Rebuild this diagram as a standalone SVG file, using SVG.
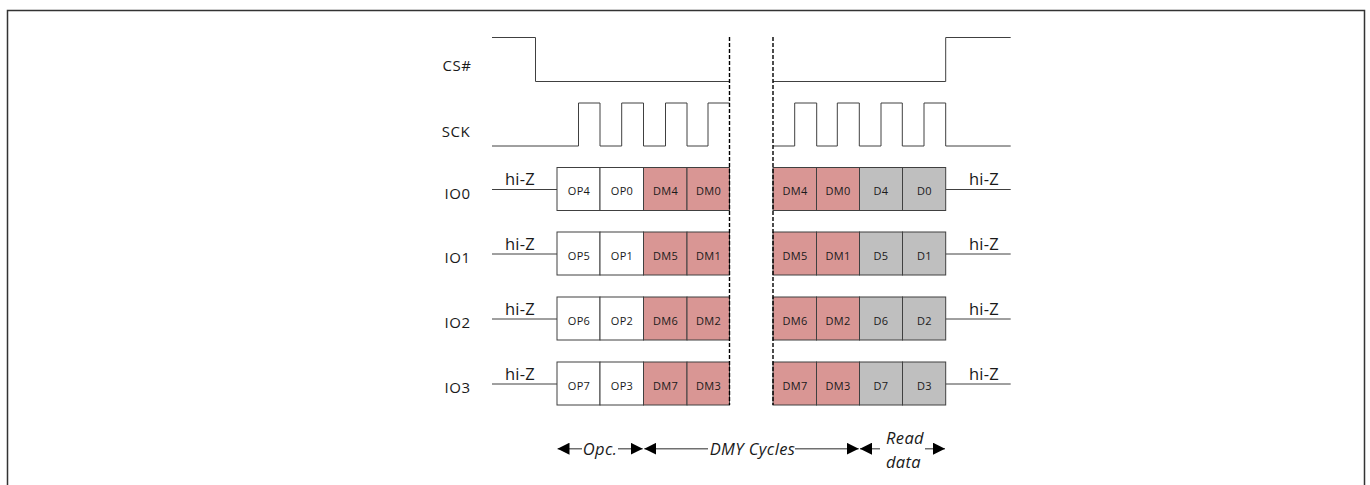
<svg xmlns="http://www.w3.org/2000/svg" width="1370" height="485" viewBox="0 0 1370 485">
<style>
.w{fill:none;stroke:#404040;stroke-width:1}
.d{fill:none;stroke:#000;stroke-width:1.4;stroke-dasharray:4 2}
.a{fill:none;stroke:#707070;stroke-width:1.5;marker-start:url(#h);marker-end:url(#h)}
.c{stroke:#404040;stroke-width:1}
.op{fill:#fff}.dm{fill:#d99694}.dt{fill:#bfbfbf}
text{font-family:"Open Sans","Noto Sans","Liberation Sans",sans-serif;fill:#1a1a1a;text-anchor:middle}
.n{font-size:15px;letter-spacing:.6px}
.b{font-size:11px;letter-spacing:.3px}
.z{font-size:16.5px;letter-spacing:.3px}
.i{font-size:16.5px;font-style:italic;letter-spacing:.4px}
</style>
<defs>
<marker id="h" viewBox="0 0 12 12" refX="12" refY="6" markerUnits="userSpaceOnUse" markerWidth="12" markerHeight="12" orient="auto-start-reverse"><path d="M0 0L12 6L0 12z" fill="#000"/></marker>
</defs>
<rect width="1370" height="485" fill="#fff"/>
<path id="frame" d="M7.5 485V10.500H1364.500V485" fill="none" stroke="#333" stroke-width="1.500"/>
<g id="signals">
<g id="cs"><text class="n" x="457" y="70.500">CS#</text>
<path class="w" d="M492 37.500H535.500V81.500H729.500"/><path class="w" d="M773 81.500H945.700V37.500H1010.700"/></g>
<g id="sck"><text class="n" x="456" y="137">SCK</text>
<path class="w" d="M492 146H578.500V103H600V146H621.700V103H643.500V146H665.500V103H687V146H708V103H729.500"/>
<path class="w" d="M773 146H794.700V103H816.700V146H837.300V103H859.300V146H881V103H902.300V146H924V103H945.700V146H1010.700"/></g>
</g>
<g id="io0"><text class="n" x="457.500" y="199">IO0</text>
<path class="c" d="M492 189.500H557M945.700 189.500H1010.700"/>
<text class="z" x="520" y="185">hi-Z</text><text class="z" x="984" y="185">hi-Z</text>
<rect class="op c" x="557" y="167.500" width="43" height="43"/><rect class="op c" x="600" y="167.500" width="43.500" height="43"/><rect class="dm c" x="643.500" y="167.500" width="43.500" height="43"/><rect class="dm c" x="687" y="167.500" width="42.500" height="43"/>
<rect class="dm c" x="773" y="167.500" width="43.500" height="43"/><rect class="dm c" x="816.500" y="167.500" width="43" height="43"/><rect class="dt c" x="859.500" y="167.500" width="43" height="43"/><rect class="dt c" x="902.500" y="167.500" width="43.200" height="43"/>
<text class="b" x="579" y="195">OP4</text><text class="b" x="622" y="195">OP0</text><text class="b" x="665.500" y="195">DM4</text><text class="b" x="708.500" y="195">DM0</text>
<text class="b" x="795" y="195">DM4</text><text class="b" x="838" y="195">DM0</text><text class="b" x="881" y="195">D4</text><text class="b" x="924.500" y="195">D0</text></g>
<g id="io1"><text class="n" x="457.500" y="263">IO1</text>
<path class="c" d="M492 254H557M945.700 254H1010.700"/>
<text class="z" x="520" y="249.500">hi-Z</text><text class="z" x="984" y="249.500">hi-Z</text>
<rect class="op c" x="557" y="232" width="43" height="43"/><rect class="op c" x="600" y="232" width="43.500" height="43"/><rect class="dm c" x="643.500" y="232" width="43.500" height="43"/><rect class="dm c" x="687" y="232" width="42.500" height="43"/>
<rect class="dm c" x="773" y="232" width="43.500" height="43"/><rect class="dm c" x="816.500" y="232" width="43" height="43"/><rect class="dt c" x="859.500" y="232" width="43" height="43"/><rect class="dt c" x="902.500" y="232" width="43.200" height="43"/>
<text class="b" x="579" y="259.500">OP5</text><text class="b" x="622" y="259.500">OP1</text><text class="b" x="665.500" y="259.500">DM5</text><text class="b" x="708.500" y="259.500">DM1</text>
<text class="b" x="795" y="259.500">DM5</text><text class="b" x="838" y="259.500">DM1</text><text class="b" x="881" y="259.500">D5</text><text class="b" x="924.500" y="259.500">D1</text></g>
<g id="io2"><text class="n" x="457.500" y="328">IO2</text>
<path class="c" d="M492 319H557M945.700 319H1010.700"/>
<text class="z" x="520" y="314.500">hi-Z</text><text class="z" x="984" y="314.500">hi-Z</text>
<rect class="op c" x="557" y="297" width="43" height="43"/><rect class="op c" x="600" y="297" width="43.500" height="43"/><rect class="dm c" x="643.500" y="297" width="43.500" height="43"/><rect class="dm c" x="687" y="297" width="42.500" height="43"/>
<rect class="dm c" x="773" y="297" width="43.500" height="43"/><rect class="dm c" x="816.500" y="297" width="43" height="43"/><rect class="dt c" x="859.500" y="297" width="43" height="43"/><rect class="dt c" x="902.500" y="297" width="43.200" height="43"/>
<text class="b" x="579" y="324.500">OP6</text><text class="b" x="622" y="324.500">OP2</text><text class="b" x="665.500" y="324.500">DM6</text><text class="b" x="708.500" y="324.500">DM2</text>
<text class="b" x="795" y="324.500">DM6</text><text class="b" x="838" y="324.500">DM2</text><text class="b" x="881" y="324.500">D6</text><text class="b" x="924.500" y="324.500">D2</text></g>
<g id="io3"><text class="n" x="457.500" y="393">IO3</text>
<path class="c" d="M492 384H557M945.700 384H1010.700"/>
<text class="z" x="520" y="379.500">hi-Z</text><text class="z" x="984" y="379.500">hi-Z</text>
<rect class="op c" x="557" y="362" width="43" height="43"/><rect class="op c" x="600" y="362" width="43.500" height="43"/><rect class="dm c" x="643.500" y="362" width="43.500" height="43"/><rect class="dm c" x="687" y="362" width="42.500" height="43"/>
<rect class="dm c" x="773" y="362" width="43.500" height="43"/><rect class="dm c" x="816.500" y="362" width="43" height="43"/><rect class="dt c" x="859.500" y="362" width="43" height="43"/><rect class="dt c" x="902.500" y="362" width="43.200" height="43"/>
<text class="b" x="579" y="389.500">OP7</text><text class="b" x="622" y="389.500">OP3</text><text class="b" x="665.500" y="389.500">DM7</text><text class="b" x="708.500" y="389.500">DM3</text>
<text class="b" x="795" y="389.500">DM7</text><text class="b" x="838" y="389.500">DM3</text><text class="b" x="881" y="389.500">D7</text><text class="b" x="924.500" y="389.500">D3</text></g>
<g id="connectors">
<path class="d" d="M729.500 37V405"/><path class="d" d="M773 37V405"/>
<path d="M557.500 448.700H642.700" class="a"/>
<path d="M644.300 448.700H858.700" class="a"/>
<path d="M860 448.700H945" class="a"/>
</g>
<g id="labels">
<rect x="582" y="438" width="36" height="22" fill="#fff"/><text class="i" x="600" y="455">Opc.</text>
<rect x="708" y="438" width="87" height="22" fill="#fff"/><text class="i" x="752.500" y="455">DMY Cycles</text>
<rect x="880" y="428" width="45" height="46" fill="#fff"/><text class="i" x="905" y="444">Read</text><text class="i" x="903.500" y="468">data</text>
</g>
</svg>
